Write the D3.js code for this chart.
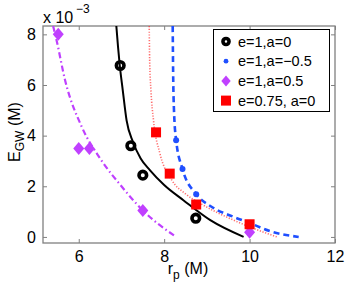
<!DOCTYPE html>
<head>
<meta charset="utf-8">
<script src="https://cdn.jsdelivr.net/npm/d3@7"></script>
<style>
  body { margin: 0; background: #fff; }
  text { font-family: "Liberation Sans", Arial, sans-serif; }
</style>
</head>
<body>
<svg width="346" height="284"></svg>
<script>
// values in units of 1e-3 M
var xTicks = [6, 8, 10, 12]
  , yTicks = [0, 2, 4, 6, 8]

var seriesNames = ['e=1,a=0', 'e=1,a=\u22120.5', 'e=1,a=0.5', 'e=0.75, a=0']

// measured points
var ptsA0 = [[6.97, 6.77], [7.22, 3.6], [7.5, 2.44], [8.74, 0.74]]
var ptsAm = [[8.28, 3.82], [8.43, 2.68], [8.75, 1.69], [10.0, 0.55]]
var ptsAp = [[5.52, 8.0], [6.0, 3.49], [6.25, 3.49], [7.5, 1.04], [10.0, 0.18]]
var ptsE75 = [[7.81, 4.13], [8.13, 2.5], [8.75, 1.28], [10.0, 0.5]]

// fitted curves
var fitA0 = [[6.88, 8.33], [6.92, 7.5], [6.96, 6.78], [7.03, 5.8], [7.12, 4.6], [7.27, 3.75],
             [7.45, 3.1], [7.67, 2.63], [8.0, 2.05], [8.45, 1.45], [9.08, 0.66], [9.86, 0.0]]
var fitAm = [[8.2, 8.33], [8.21, 6.5], [8.23, 5.0], [8.28, 3.82], [8.43, 2.68], [8.75, 1.69],
             [9.1, 1.2], [9.63, 0.79], [10.0, 0.55], [10.49, 0.22], [11.15, 0.0]]
var fitAp = [[5.4, 8.33], [5.48, 7.77], [5.68, 6.19], [6.07, 4.35], [6.5, 3.1], [7.0, 2.0],
             [7.48, 1.08], [8.28, 0.0]]
var fitE75 = [[7.65, 8.33], [7.66, 7.0], [7.69, 5.8], [7.75, 4.61], [7.9, 3.3], [8.18, 2.24],
              [8.5, 1.7], [8.85, 1.32], [9.63, 0.66], [10.64, 0.0]]

var svg = d3.select('svg')
var m = { l: 43, r: 335, t: 26, b: 243 }

var x = d3.scaleLinear().domain([5.163, 12]).range([m.l, m.r])
var y = d3.scaleLinear().domain([-0.24, 8.33]).range([m.b, m.t])

svg.append('clipPath').attr('id', 'c').append('rect')
  .attr('x', m.l).attr('y', m.t).attr('width', m.r - m.l).attr('height', m.b - m.t)

// frame with inward ticks
var g = svg.append('g').attr('class', 'axes')
g.append('rect').attr('x', m.l).attr('y', m.t).attr('width', m.r - m.l).attr('height', m.b - m.t)
  .attr('fill', 'none').attr('stroke', '#808080').attr('stroke-width', 1.3)

var fs = 16
g.append('g').attr('transform', 'translate(0,' + m.b + ')')
  .call(d3.axisBottom(x).tickValues(xTicks).tickSize(-4).tickPadding(8).tickFormat(d3.format('d')))
g.append('g').attr('transform', 'translate(0,' + m.t + ')')
  .call(d3.axisTop(x).tickValues(xTicks).tickSize(-4).tickFormat(''))
g.append('g').attr('transform', 'translate(' + m.l + ',0)')
  .call(d3.axisLeft(y).tickValues(yTicks).tickSize(-4).tickPadding(7).tickFormat(d3.format('d')))
g.append('g').attr('transform', 'translate(' + m.r + ',0)')
  .call(d3.axisRight(y).tickValues(yTicks).tickSize(-4).tickFormat(''))
g.selectAll('.domain').remove()
g.selectAll('.tick line').attr('stroke', '#808080')
g.selectAll('.tick text').attr('font-size', fs).attr('fill', '#000')
  .style('font-family', '"Liberation Sans", Arial, sans-serif')

// curves
var line = d3.line().x(function (d) { return x(d[0]) }).y(function (d) { return y(d[1]) })
  .curve(d3.curveMonotoneX)
var plot = svg.append('g').attr('clip-path', 'url(#c)')

plot.append('path').datum(fitAp).attr('d', line).attr('fill', 'none')
  .attr('stroke', '#bf40ff').attr('stroke-width', 2.2).attr('stroke-dasharray', '6,3,1.5,3')
plot.append('path').datum(fitE75).attr('d', line).attr('fill', 'none')
  .attr('stroke', '#ff3030').attr('stroke-width', 1.6).attr('stroke-dasharray', '1.2,1.6').attr('opacity', 0.7)
plot.append('path').datum(fitAm).attr('d', line).attr('fill', 'none')
  .attr('stroke', '#1f4fff').attr('stroke-width', 2.6).attr('stroke-dasharray', '6,4')
plot.append('path').datum(fitA0).attr('d', line).attr('fill', 'none')
  .attr('stroke', '#000').attr('stroke-width', 2)

// markers
function circle(sel) {
  sel.append('circle').attr('r', 3.8).attr('fill', 'none').attr('stroke', '#000').attr('stroke-width', 3.6)
}
function dot(sel) {
  sel.append('circle').attr('r', 3).attr('fill', '#1f4fff')
}
function diamond(sel) {
  sel.append('path').attr('d', 'M0,-6.5L5.5,0L0,6.5L-5.5,0Z').attr('fill', '#c040ff')
}
function square(sel) {
  sel.append('rect').attr('x', -5).attr('y', -5).attr('width', 10).attr('height', 10).attr('fill', '#ff0000')
}
function drawPts(data, fn) {
  plot.append('g').selectAll('g').data(data).enter().append('g')
    .attr('transform', function (d) { return 'translate(' + x(d[0]) + ',' + y(d[1]) + ')' })
    .call(fn)
}
drawPts(ptsA0, circle)
drawPts(ptsAm, dot)
drawPts(ptsAp, diamond)
drawPts(ptsE75, square)

// legend
var lg = svg.append('g').attr('transform', 'translate(213.5,29.5)')
lg.append('rect').attr('width', 116).attr('height', 82).attr('fill', '#fff').attr('stroke', '#000').attr('stroke-width', 1)
var markers = [circle, dot, diamond, square]
seriesNames.forEach(function (name, i) {
  var row = lg.append('g').attr('transform', 'translate(0,' + (12 + i * 19.7) + ')')
  row.append('g').attr('transform', 'translate(12.5,0)').call(markers[i])
  row.append('text').attr('x', 24.5).attr('y', 5).attr('font-size', 14.5).text(name)
})
lg.selectAll('circle').attr('r', function () { return +d3.select(this).attr('r') * 0.8 })
lg.select('path').attr('transform', 'scale(0.85)')
lg.select('rect + g rect, g rect').attr('transform', null)

// axis labels
svg.append('text').attr('x', 43).attr('y', 23).attr('font-size', 16).text('x 10')
svg.append('text').attr('x', 76).attr('y', 13).attr('font-size', 12).text('\u22123')

var yl = svg.append('text').attr('transform', 'translate(20,132) rotate(-90)')
  .attr('text-anchor', 'middle').attr('font-size', 16)
yl.append('tspan').text('E')
yl.append('tspan').attr('font-size', 12).attr('dy', 4).text('GW')
yl.append('tspan').attr('dy', -4).text(' (M)')

var xl = svg.append('text').attr('x', 188).attr('y', 274).attr('text-anchor', 'middle').attr('font-size', 16)
xl.append('tspan').text('r')
xl.append('tspan').attr('font-size', 12).attr('dy', 5).text('p')
xl.append('tspan').attr('dy', -5).text(' (M)')
</script>
</body>
